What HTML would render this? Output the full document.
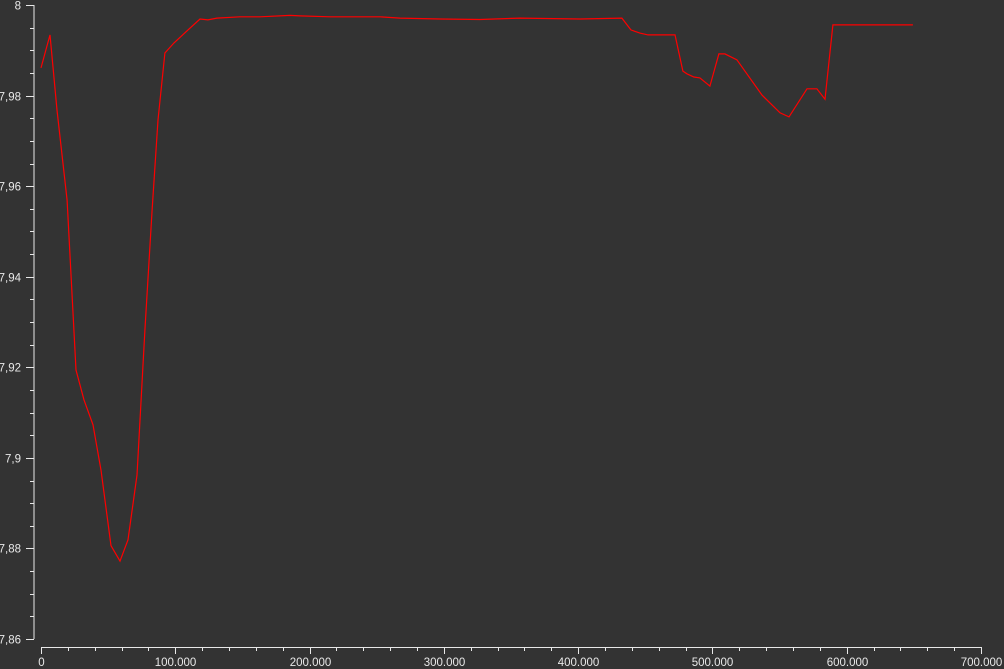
<!DOCTYPE html>
<html><head><meta charset="utf-8"><style>
html,body{margin:0;padding:0;background:#333333;}
svg{display:block;font-family:"Liberation Sans",sans-serif;}
</style></head><body>
<svg id="chart" width="1004" height="669" viewBox="0 0 1004 669">
<rect x="0" y="0" width="1004" height="669" fill="#333333"/>
<g id="axes"></g>
<polyline id="series" fill="none" stroke="#ff0000" stroke-width="1.2"/>
</svg>
<script>
const xValues = [0,6700,11900,19400,26100,32000,38700,44700,52100,58800,64800,71500,77400,82700,87100,92300,99000,109500,118400,124300,131000,148200,163100,185400,192900,215200,252400,267300,297100,326900,356700,401300,432600,439300,446000,452000,472100,478000,481000,486200,490700,498100,504800,509300,518200,536900,550300,557000,570400,577800,583800,589700,649300];
const yValues = [7.9861,7.9934,7.9768,7.9569,7.9194,7.9128,7.9073,7.8973,7.8806,7.8772,7.8819,7.8962,7.9282,7.9547,7.9746,7.9894,7.9916,7.9945,7.9969,7.9967,7.9971,7.9974,7.9974,7.9977,7.9976,7.9974,7.9974,7.9971,7.9969,7.9968,7.9971,7.9969,7.9971,7.9945,7.9938,7.9934,7.9934,7.9854,7.9848,7.9841,7.9839,7.9821,7.9892,7.9892,7.9879,7.9801,7.9762,7.9753,7.9815,7.9815,7.9792,7.9956,7.9956];
const xTickLabels = ["0","100.000","200.000","300.000","400.000","500.000","600.000","700.000"];
const yTickLabels = ["7,86","7,88","7,9","7,92","7,94","7,96","7,98","8"];

const X0=41, X1=981, XMIN=0, XMAX=700000;
const Y0=639, Y1=5, YMIN=7.86, YMAX=8;
function sx(v){return X0+(v-XMIN)/(XMAX-XMIN)*(X1-X0);}
function sy(v){return Y0-(v-YMIN)/(YMAX-YMIN)*(Y0-Y1);}
const NS="http://www.w3.org/2000/svg";
const axes=document.getElementById('axes');
function mk(tag,attrs){const e=document.createElementNS(NS,tag);for(const k in attrs)e.setAttribute(k,attrs[k]);axes.appendChild(e);return e;}
const C="#e8e8e8";
let yl=mk('line',{x1:34,y1:Y1,x2:34,y2:Y0,stroke:C,'stroke-width':1});


for(let i=0;i<yTickLabels.length;i++){
  const v=YMIN+i*0.02, y=Math.round(sy(v))+0.5;
  let t=mk('line',{x1:26,y1:y,x2:34,y2:y,stroke:C});
  
  
  let tx=mk('text',{x:21,y:y+4,'text-anchor':'end','font-size':11.5,fill:C});
  tx.textContent=yTickLabels[i];
  
  
  if(i<yTickLabels.length-1){
    for(let j=1;j<4;j++){
      const ym=Math.round(sy(v+j*0.005))+0.5;
      let m=mk('line',{x1:30,y1:ym,x2:34,y2:ym,stroke:C});
      
      
    }
  }
}
let xl=mk('line',{x1:X0,y1:647.5,x2:X1,y2:647.5,stroke:C});


for(let i=0;i<xTickLabels.length;i++){
  const v=i*100000, x=Math.round(sx(v))+0.5;
  let t=mk('line',{x1:x,y1:647,x2:x,y2:654,stroke:C});
  
  
  let tx=mk('text',{x:x,y:666,'text-anchor':'middle','font-size':11.5,fill:C});
  tx.textContent=xTickLabels[i];
  
  
  if(i<xTickLabels.length-1){
    for(let j=1;j<5;j++){
      const xm=Math.round(sx(v+j*20000))+0.5;
      let m=mk('line',{x1:xm,y1:647,x2:xm,y2:651,stroke:C});
      
      
    }
  }
}
document.getElementById('series').setAttribute('points',xValues.map((x,i)=>sx(x).toFixed(1)+','+sy(yValues[i]).toFixed(1)).join(' '));
</script>
</body></html>
